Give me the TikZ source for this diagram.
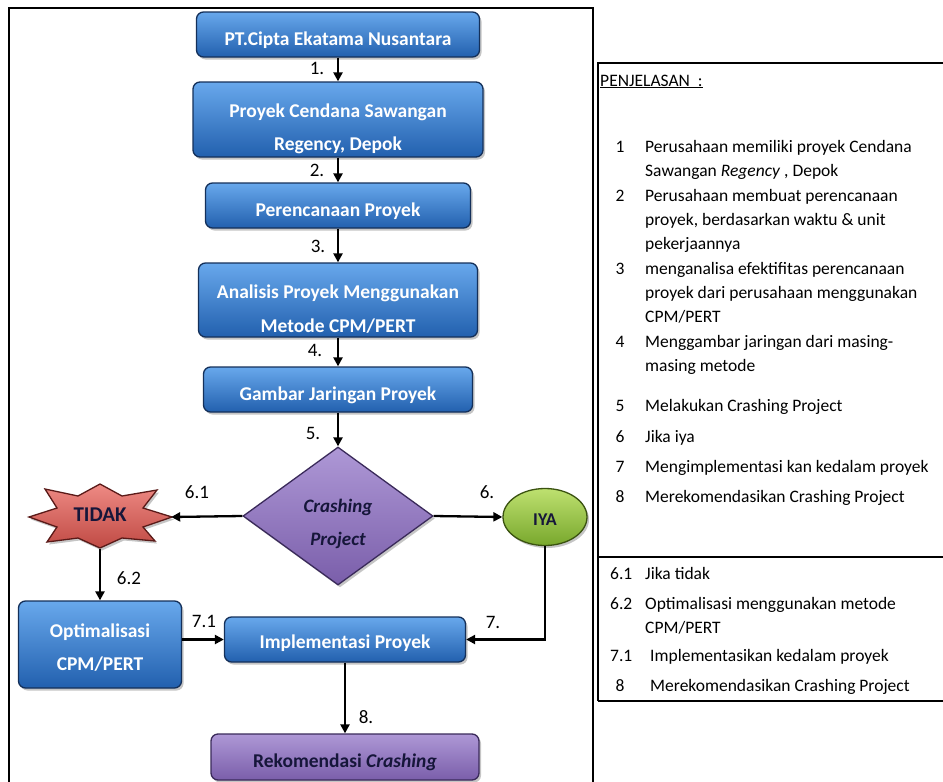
\documentclass[tikz,border=0pt]{standalone}
\usepackage{fontspec}
\setmainfont{Carlito}
\usetikzlibrary{shapes.geometric,shadows,arrows.meta}
\definecolor{blueT}{HTML}{68A8EC}
\definecolor{blueB}{HTML}{2260AE}
\definecolor{blueD}{HTML}{14305A}
\definecolor{purT}{HTML}{AE98D6}
\definecolor{purB}{HTML}{7A5EAA}
\definecolor{purD}{HTML}{3A2A5A}
\definecolor{redT}{HTML}{EE8A84}
\definecolor{redB}{HTML}{C04A44}
\definecolor{redD}{HTML}{5A1A18}
\definecolor{grnT}{HTML}{BEE070}
\definecolor{grnB}{HTML}{78A82C}
\definecolor{grnD}{HTML}{3A5210}
\definecolor{darktxt}{HTML}{16163A}
\begin{document}
\begin{tikzpicture}[x=1pt,y=-1pt,
  bx/.style={rounded corners=7pt, draw=blueD, line width=1.3pt,
    top color=blueT, bottom color=blueB, text=white,
    font=\bfseries\fontsize{19.5}{33}\selectfont, align=center, inner sep=0pt,
    drop shadow={shadow xshift=2pt, shadow yshift=-2.5pt, opacity=0.45}},
  arr/.style={line width=2.3pt, -{Triangle[length=9pt,width=9pt]}},
  lbl/.style={font=\fontsize{19}{20}\selectfont, inner sep=0pt},
  ptxt/.style={font=\fontsize{17.5}{24}\selectfont, anchor=base west, inner sep=0pt},
  pnum/.style={font=\fontsize{17.5}{24}\selectfont, anchor=base, inner sep=0pt}]
\useasboundingbox (0,0) rectangle (943,782);
\fill[white] (0,0) rectangle (943,782);

% outer frame
\draw[line width=1.4pt] (9,790) -- (9,8) -- (593,8) -- (593,790);

% right panel
\draw[line width=2.6pt] (598,701) -- (598,63) -- (950,63);
\draw[line width=2.6pt] (598,557) -- (950,557);
\draw[line width=1.3pt] (598,701) -- (950,701);

% flow boxes
\node[bx, minimum width=283pt, minimum height=45pt, text height=25pt, text depth=3pt] (b1) at (338,34.5) {PT.Cipta Ekatama Nusantara};
\node[bx, minimum width=290pt, minimum height=75pt, text height=65pt, text depth=3pt] (b2) at (338,119.5) {Proyek Cendana Sawangan\\Regency, Depok};
\node[bx, minimum width=265pt, minimum height=45pt, text height=25pt, text depth=3pt] (b3) at (338,205.5) {Perencanaan Proyek};
\node[bx, minimum width=279pt, minimum height=74pt, text height=68pt, text depth=3pt, font=\bfseries\fontsize{19.5}{34}\selectfont] (b4) at (338,300) {Analisis Proyek Menggunakan\\Metode CPM/PERT};
\node[bx, minimum width=269pt, minimum height=45pt, text height=25pt, text depth=3pt] (b5) at (338,389.5) {Gambar Jaringan Proyek};

\node[diamond, draw=purD, line width=1.3pt, top color=purT, bottom color=purB,
  minimum width=190pt, minimum height=138pt, inner sep=0pt, align=center,
  text=darktxt, font=\bfseries\itshape\fontsize{19}{33}\selectfont,
  text height=62pt, text depth=3pt,
  drop shadow={shadow xshift=2pt, shadow yshift=-2.5pt, opacity=0.45}] (d) at (338,516) {Crashing\\Project};

% star TIDAK
\path[draw=redD, line width=1.3pt, top color=redT, bottom color=redB,
  drop shadow={shadow xshift=2pt, shadow yshift=-2.5pt, opacity=0.45}]
  (172,517) -- (143,508) -- (157,490) -- (122,496) -- (100,484) -- (78,496) -- (45,489) -- (57,508)
  -- (29,517) -- (57,527) -- (47,542) -- (78,538) -- (100,548) -- (122,538) -- (155,541) -- (143,527) -- cycle;
\node[minimum width=142pt, minimum height=64pt, inner sep=0pt, text=darktxt,
  font=\bfseries\fontsize{21}{24}\selectfont, text height=11pt, text depth=3pt] (tidak) at (100,517) {TIDAK};

\node[ellipse, draw=grnD, line width=1.3pt, top color=grnT, bottom color=grnB,
  minimum width=84pt, minimum height=57pt, inner sep=0pt, text=darktxt,
  font=\bfseries\fontsize{18}{20}\selectfont, text height=20pt, text depth=3pt,
  drop shadow={shadow xshift=2pt, shadow yshift=-2.5pt, opacity=0.45}] (iya) at (545,517) {IYA};

\node[bx, minimum width=163pt, minimum height=87pt, text height=55pt, text depth=3pt] (b6) at (100,644.5) {Optimalisasi\\CPM/PERT};
\node[bx, minimum width=241pt, minimum height=45pt, text height=21pt, text depth=3pt] (b7) at (345,639.5) {Implementasi Proyek};
\node[bx, minimum width=268pt, minimum height=46pt, text height=24pt, text depth=3pt,
  top color=purT, bottom color=purB, draw=purD, text=darktxt] (b8) at (345,757) {Rekomendasi \textit{Crashing}};

% connectors
\draw[arr] (b1) -- (b2);
\draw[arr] (b2) -- (b3);
\draw[arr] (b3) -- (b4);
\draw[arr] (b4) -- (b5);
\draw[arr] (b5) -- (d);
\draw[arr] (d.west) -- (tidak.east);
\draw[arr] (d.east) -- (iya.west);
\draw[arr] (tidak.south) -- (b6.north);
\draw[arr] (b7.west -| b6.east) -- (b7.west);
\draw[arr] (iya.south) |- (b7.east);
\draw[arr] (b7) -- (b8);

% connector labels
\node[lbl] (l1) at (317,68) {1.};
\node[lbl] (l2) at (317,170) {2.};
\node[lbl] (l3) at (318,246) {3.};
\node[lbl] (l4) at (315,350) {4.};
\node[lbl] (l5) at (313,433) {5.};
\node[lbl] (l61) at (197,492) {6.1};
\node[lbl] (l6) at (487,492) {6.};
\node[lbl] (l62) at (129,578) {6.2};
\node[lbl] (l71) at (204,621) {7.1};
\node[lbl] (l7) at (493,622) {7.};
\node[lbl] (l8) at (366,717) {8.};

% explanation panel
\node[ptxt] (ph) at (600,86) {\underline{PENJELASAN\ \ :}};
\node[pnum] (n1) at (620,152) {1};
\node[ptxt] (t1a) at (645,152) {Perusahaan memiliki proyek Cendana};
\node[ptxt] (t1b) at (645,176) {Sawangan \textit{Regency} , Depok};
\node[pnum] (n2) at (620,201) {2};
\node[ptxt] (t2a) at (645,201) {Perusahaan membuat perencanaan};
\node[ptxt] (t2b) at (645,225) {proyek, berdasarkan waktu \& unit};
\node[ptxt] (t2c) at (645,249) {pekerjaannya};
\node[pnum] (n3) at (620,274) {3};
\node[ptxt] (t3a) at (645,274) {menganalisa efektifitas perencanaan};
\node[ptxt] (t3b) at (645,298) {proyek dari perusahaan menggunakan};
\node[ptxt] (t3c) at (645,322) {CPM/PERT};
\node[pnum] (n4) at (620,347) {4};
\node[ptxt] (t4a) at (645,347) {Menggambar jaringan dari masing-};
\node[ptxt] (t4b) at (645,371) {masing metode};
\node[pnum] (n5) at (620,411) {5};
\node[ptxt] (t5) at (645,411) {Melakukan Crashing Project};
\node[pnum] (n6) at (620,442) {6};
\node[ptxt] (t6) at (645,442) {Jika iya};
\node[pnum] (n7) at (620,472) {7};
\node[ptxt] (t7) at (645,472) {Mengimplementasi kan kedalam proyek};
\node[pnum] (n8) at (620,502) {8};
\node[ptxt] (t8) at (645,502) {Merekomendasikan Crashing Project};

\node[ptxt] (n61) at (610,579) {6.1};
\node[ptxt] (t61) at (645,579) {Jika tidak};
\node[ptxt] (n62) at (610,609) {6.2};
\node[ptxt] (t62a) at (645,609) {Optimalisasi menggunakan metode};
\node[ptxt] (t62b) at (645,633) {CPM/PERT};
\node[ptxt] (n71) at (610,661) {7.1};
\node[ptxt] (t71) at (650,661) {Implementasikan kedalam proyek};
\node[pnum] (n8b) at (620,691) {8};
\node[ptxt] (t8b) at (650,691) {Merekomendasikan Crashing Project};
\end{tikzpicture}
\end{document}
